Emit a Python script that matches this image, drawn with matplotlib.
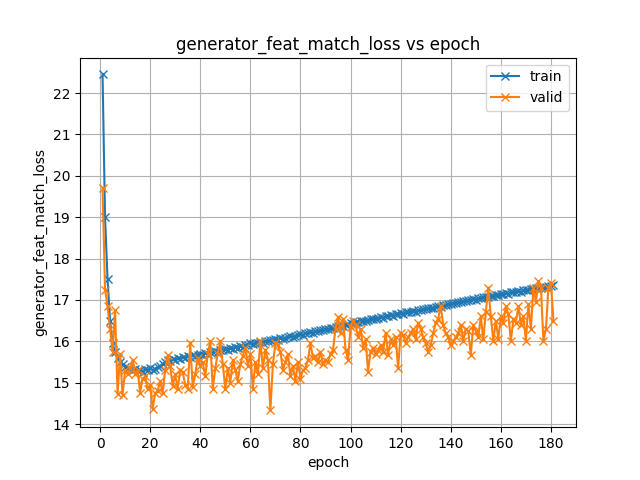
import matplotlib
matplotlib.use("Agg")
import matplotlib.pyplot as plt

train = [
    22.45, 19.0, 17.5, 16.5, 15.95, 15.75, 15.6, 15.5, 15.45, 15.38,
    15.35, 15.33, 15.3, 15.32, 15.28, 15.3, 15.27, 15.33, 15.3, 15.36,
    15.3, 15.34, 15.38, 15.4, 15.45, 15.5, 15.55, 15.52, 15.58, 15.56,
    15.6, 15.58, 15.62, 15.6, 15.65, 15.62, 15.66, 15.64, 15.68, 15.7,
    15.68, 15.72, 15.7, 15.75, 15.73, 15.77, 15.75, 15.8, 15.78, 15.82,
    15.8, 15.84, 15.82, 15.86, 15.85, 15.88, 15.86, 15.9, 15.92, 15.95,
    15.93, 15.97, 15.95, 15.99, 15.97, 16.01, 16.0, 16.03, 16.02, 16.05,
    16.04, 16.07, 16.06, 16.09, 16.1, 16.12, 16.11, 16.14, 16.15, 16.17,
    16.16, 16.19, 16.2, 16.22, 16.21, 16.25, 16.24, 16.27, 16.28, 16.3,
    16.3, 16.33, 16.32, 16.35, 16.36, 16.38, 16.37, 16.4, 16.42, 16.44,
    16.43, 16.46, 16.47, 16.48, 16.5, 16.49, 16.52, 16.53, 16.55, 16.54,
    16.57, 16.58, 16.57, 16.6, 16.61, 16.63, 16.62, 16.65, 16.66, 16.68,
    16.67, 16.7, 16.71, 16.72, 16.73, 16.72, 16.75, 16.76, 16.78, 16.77,
    16.8, 16.81, 16.8, 16.83, 16.85, 16.84, 16.87, 16.88, 16.9, 16.91,
    16.92, 16.93, 16.95, 16.94, 16.97, 16.98, 16.99, 17.0, 17.02, 17.01,
    17.04, 17.05, 17.06, 17.07, 17.08, 17.09, 17.1, 17.12, 17.11, 17.14,
    17.15, 17.16, 17.15, 17.18, 17.19, 17.2, 17.21, 17.2, 17.23, 17.24,
    17.25, 17.26, 17.27, 17.28, 17.29, 17.3, 17.31, 17.32, 17.33, 17.34, 17.35,
]

valid = [
    19.7, 17.25, 16.85, 16.3, 15.75, 16.75, 14.72, 15.7, 14.7, 15.3,
    15.2, 15.35, 15.55, 15.2, 15.3, 14.76, 15.1, 15.15, 14.85, 14.95,
    14.36, 14.75, 14.8, 15.04, 14.76, 15.3, 15.66, 15.4, 14.92, 15.2,
    14.85, 15.3, 15.25, 14.95, 14.85, 15.95, 14.9, 15.2, 15.6, 15.4,
    15.5, 15.15, 15.7, 16.0, 14.85, 15.35, 15.7, 16.0, 15.45, 14.85,
    15.35, 15.0, 15.55, 15.3, 15.05, 15.45, 15.65, 15.85, 15.4, 15.7,
    14.85, 15.5, 15.2, 16.0, 15.35, 15.8, 15.55, 14.33, 15.45, 15.95,
    15.9, 15.75, 15.3, 15.5, 15.7, 15.15, 15.4, 15.05, 15.5, 15.1,
    15.3, 15.35, 15.55, 15.95, 15.6, 15.65, 15.5, 15.75, 15.45, 15.55,
    15.5, 15.7, 15.8, 16.3, 16.58, 16.2, 16.55, 15.8, 15.55, 16.35,
    16.5, 16.4, 16.1, 16.3, 15.85, 16.05, 15.27, 15.75, 15.85, 15.7,
    15.8, 15.9, 15.75, 16.2, 15.66, 16.05, 15.9, 16.1, 15.35, 16.2,
    16.15, 15.95, 16.1, 16.2, 16.3, 16.05, 16.45, 16.3, 16.1, 15.95,
    15.75, 15.9, 16.2, 16.45, 16.55, 16.85, 16.4, 16.2, 16.1, 15.9,
    16.0, 16.1, 16.2, 16.4, 16.0, 16.3, 16.25, 15.66, 16.4, 16.25,
    16.1, 16.6, 16.05, 16.7, 17.3, 16.6, 16.0, 16.5, 16.05, 16.6,
    16.45, 16.85, 16.65, 16.0, 16.55, 16.45, 16.85, 16.4, 16.6, 16.0,
    16.9, 16.3, 17.3, 16.95, 17.45, 17.3, 16.0, 16.3, 17.3, 17.4, 16.5,
]

epochs = list(range(1, len(train) + 1))

fig, ax = plt.subplots(figsize=(6.4, 4.8), dpi=100)
ax.plot(epochs, train, marker='x', label='train')
ax.plot(epochs, valid, marker='x', label='valid')
ax.set_title('generator_feat_match_loss vs epoch')
ax.set_xlabel('epoch')
ax.set_ylabel('generator_feat_match_loss')
ax.set_xticks(range(0, 181, 20))
ax.grid(True)
ax.legend(loc='upper right')
fig.savefig('out.png', dpi=100)
